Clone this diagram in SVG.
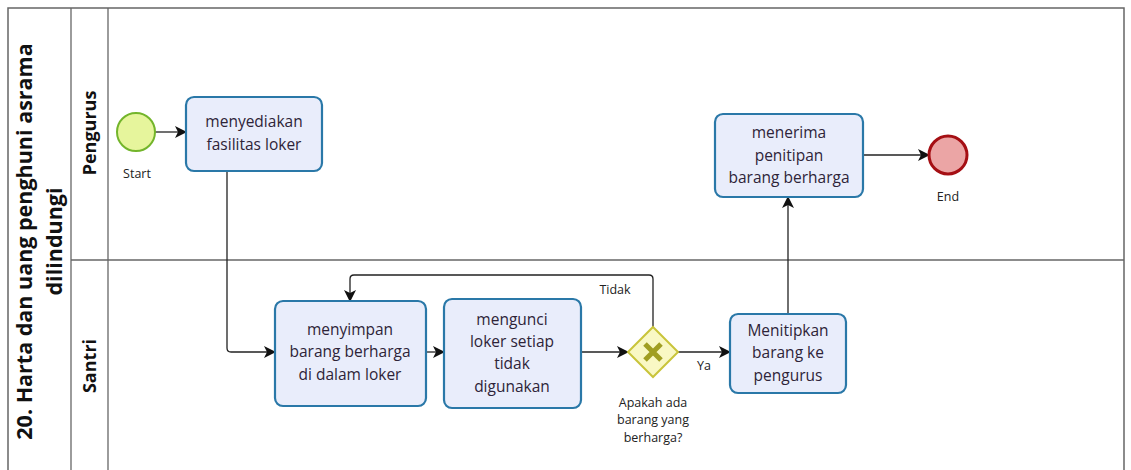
<svg xmlns="http://www.w3.org/2000/svg" width="1131" height="470" viewBox="0 0 1131 470">
<style>
.pool{fill:none;stroke:#666;stroke-width:1.5}
.ln{stroke:#666;stroke-width:1.3}
.task{fill:#e9edfb;stroke:#2a78a8;stroke-width:2.2}
.tt{font-family:"Open Sans","Noto Sans",sans-serif;font-size:15.5px;fill:#2e2438;text-anchor:middle}
.lbl{font-family:"Open Sans","Noto Sans",sans-serif;font-size:12.5px;fill:#222;text-anchor:middle}
.lane{font-family:"Open Sans","Noto Sans",sans-serif;font-size:18px;font-weight:bold;fill:#111;text-anchor:middle}
.title{font-family:"Open Sans","Noto Sans",sans-serif;font-size:21.5px;font-weight:bold;fill:#111;text-anchor:middle}
.edge{fill:none;stroke:#222;stroke-width:1.3}
</style>
<defs>
<marker id="arr" viewBox="0 0 12 12" refX="11" refY="6" markerWidth="12" markerHeight="12" markerUnits="userSpaceOnUse" orient="auto">
<path d="M0,0 L12,6 L0,12 L3,6 Z" fill="#111"/>
</marker>
</defs>
<rect width="1131" height="470" fill="#fff"/>
<g id="pool">
<path class="pool" d="M8,475 L8,8 L1124,8 L1124,475"/>
<line class="ln" x1="71" y1="8" x2="71" y2="475"/>
<line class="ln" x1="108" y1="8" x2="108" y2="475"/>
<line class="ln" x1="71" y1="260" x2="1124" y2="260"/>
<text class="title" transform="translate(32,241.5) rotate(-90)">20. Harta dan uang penghuni asrama</text>
<text class="title" transform="translate(62,241.5) rotate(-90)">dilindungi</text>
</g>
<g id="lane-pengurus"><text class="lane" transform="translate(96,133) rotate(-90)">Pengurus</text></g>
<g id="lane-santri"><text class="lane" transform="translate(96,366) rotate(-90)">Santri</text></g>
<g id="connectors">
<line class="edge" x1="155" y1="132" x2="186" y2="132" marker-end="url(#arr)"/>
<path class="edge" d="M227,171 L227,348 Q227,352 231,352 L275,352" marker-end="url(#arr)"/>
<line class="edge" x1="426" y1="352" x2="444" y2="352" marker-end="url(#arr)"/>
<line class="edge" x1="581" y1="352" x2="628" y2="352" marker-end="url(#arr)"/>
<path class="edge" d="M653,328 L653,279 Q653,275 649,275 L354,275 Q350,275 350,279 L350,301" marker-end="url(#arr)"/>
<line class="edge" x1="678" y1="352" x2="730" y2="352" marker-end="url(#arr)"/>
<line class="edge" x1="788" y1="314" x2="788" y2="197" marker-end="url(#arr)"/>
<line class="edge" x1="863" y1="155" x2="929" y2="155" marker-end="url(#arr)"/>
<text class="lbl" x="615" y="294">Tidak</text>
<text class="lbl" x="704" y="370">Ya</text>
</g>
<g id="start">
<circle cx="136" cy="132" r="19" fill="#e6f59c" stroke="#73b52b" stroke-width="2"/>
<text class="lbl" x="137" y="178">Start</text>
</g>
<g id="task1">
<rect class="task" x="186" y="97" width="136" height="74" rx="8"/>
<text class="tt" x="254" y="127">menyediakan</text>
<text class="tt" x="254" y="150">fasilitas loker</text>
</g>
<g id="task2">
<rect class="task" x="275" y="301" width="151" height="105" rx="8"/>
<text class="tt" x="350" y="335">menyimpan</text>
<text class="tt" x="350" y="357">barang berharga</text>
<text class="tt" x="350" y="380">di dalam loker</text>
</g>
<g id="task3">
<rect class="task" x="444" y="299" width="137" height="109" rx="8"/>
<text class="tt" x="512" y="325">mengunci</text>
<text class="tt" x="512" y="347">loker setiap</text>
<text class="tt" x="512" y="369">tidak</text>
<text class="tt" x="512" y="392">digunakan</text>
</g>
<g id="gateway">
<path d="M653,327 L678,352 L653,377 L628,352 Z" fill="#f9f8c4" stroke="#c9c43a" stroke-width="2"/>
<path d="M645,344 L661,360 M661,344 L645,360" stroke="#a09e22" stroke-width="5"/>
<text class="lbl" x="653" y="407">Apakah ada</text>
<text class="lbl" x="653" y="424">barang yang</text>
<text class="lbl" x="653" y="442">berharga?</text>
</g>
<g id="task4">
<rect class="task" x="730" y="314" width="116" height="79" rx="8"/>
<text class="tt" x="788" y="336">Menitipkan</text>
<text class="tt" x="788" y="358">barang ke</text>
<text class="tt" x="788" y="381">pengurus</text>
</g>
<g id="task5">
<rect class="task" x="715" y="114" width="148" height="83" rx="8"/>
<text class="tt" x="789" y="138">menerima</text>
<text class="tt" x="789" y="161">penitipan</text>
<text class="tt" x="789" y="183">barang berharga</text>
</g>
<g id="end">
<circle cx="948" cy="155" r="19" fill="#eba5a5" stroke="#a50f14" stroke-width="3"/>
<text class="lbl" x="948" y="201">End</text>
</g>
</svg>
